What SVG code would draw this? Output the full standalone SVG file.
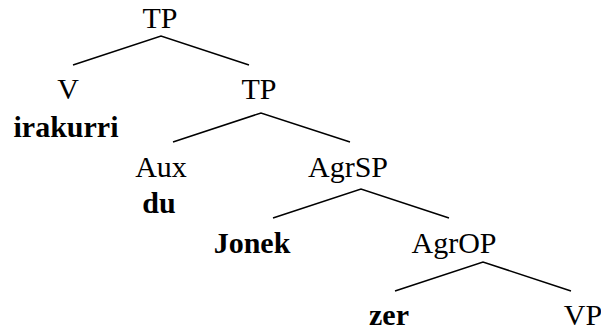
<svg xmlns="http://www.w3.org/2000/svg" width="601" height="332" viewBox="0 0 601 332">
<style>
text{font-family:"Liberation Serif","Times New Roman",serif;font-size:30px;fill:#000;text-anchor:middle}
.b{font-weight:bold}
.e{stroke:#000;stroke-width:1.5;fill:none}
</style>
<rect width="601" height="332" fill="#fff"/>
<g id="connectors">
<polyline class="e" points="73,65 161,36 249,65"/>
<polyline class="e" points="173,142 261,113 350,142"/>
<polyline class="e" points="273,218 361,189 449,218"/>
<polyline class="e" points="395,291 483,262 571,291"/>
</g>
<g id="tp1"><text x="160" y="28">TP</text></g>
<g id="v"><text x="68" y="99">V</text><text class="b" x="66" y="137">irakurri</text></g>
<g id="tp2"><text x="259" y="99">TP</text></g>
<g id="aux"><text x="161" y="177">Aux</text><text class="b" x="159" y="213">du</text></g>
<g id="agrsp"><text x="348" y="177">AgrSP</text></g>
<g id="jonek"><text class="b" x="252" y="253">Jonek</text></g>
<g id="agrop"><text x="454" y="253">AgrOP</text></g>
<g id="zer"><text class="b" x="389" y="325">zer</text></g>
<g id="vp"><text x="583" y="325">VP</text></g>
</svg>
